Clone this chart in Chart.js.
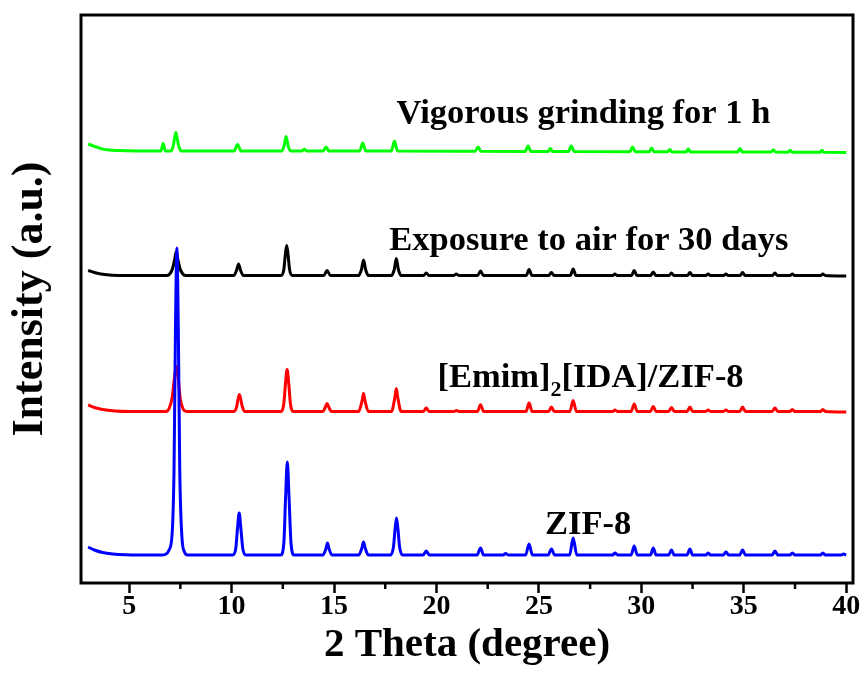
<!DOCTYPE html>
<html>
<head>
<meta charset="utf-8">
<script src="https://cdn.jsdelivr.net/npm/chart.js@4.4.1/dist/chart.umd.min.js"></script>
<style>
  html, body { margin: 0; padding: 0; background: #ffffff; }
  #c { display: block; }
</style>
</head>
<body>
<canvas id="c" width="868" height="681"></canvas>
<script>
// XRD patterns: [2θ (degree), intensity above the pattern's own baseline]
const zif8 = [
  [3.0, 8], [3.3, 5], [3.7, 2.5], [4.2, 1], [4.8, 0.3], [6.6, 0],
  [6.75, 0.5], [6.95, 5], [7.1, 22], [7.19, 85], [7.26, 225], [7.33, 307], [7.4, 225], [7.47, 85], [7.57, 20], [7.7, 3], [7.85, 0],
  [10.05, 0], [10.2, 6], [10.29, 27], [10.37, 42], [10.45, 27], [10.55, 6], [10.7, 0],
  [12.4, 0], [12.55, 12], [12.64, 60], [12.72, 93], [12.8, 60], [12.9, 12], [13.05, 0],
  [14.45, 0], [14.6, 6], [14.68, 12], [14.76, 6], [14.9, 0],
  [16.2, 0], [16.36, 7], [16.44, 13], [16.52, 7], [16.68, 0],
  [17.75, 0], [17.9, 8], [17.98, 26], [18.05, 37], [18.12, 26], [18.2, 8], [18.35, 0],
  [19.35, 0], [19.5, 4], [19.65, 0],
  [21.98, 0], [22.15, 7], [22.3, 0],
  [23.25, 0], [23.38, 1.5], [23.5, 0],
  [24.35, 0], [24.52, 11], [24.68, 0],
  [25.45, 0], [25.61, 6], [25.77, 0],
  [26.5, 0], [26.67, 17], [26.85, 0],
  [28.6, 0], [28.71, 2], [28.85, 0],
  [29.5, 0], [29.65, 9], [29.8, 0],
  [30.45, 0], [30.58, 7], [30.72, 0],
  [31.33, 0], [31.47, 5], [31.6, 0],
  [32.23, 0], [32.37, 6], [32.5, 0],
  [33.15, 0], [33.26, 2], [33.38, 0],
  [34.0, 0], [34.13, 3], [34.26, 0],
  [34.8, 0], [34.94, 5], [35.08, 0],
  [36.38, 0], [36.52, 4], [36.66, 0],
  [37.25, 0], [37.37, 2], [37.5, 0],
  [38.74, 0], [38.86, 2], [38.98, 0],
  [39.75, 0], [39.86, 1], [40.0, 0]
];

const emimIdaZif8 = [
  [3.0, 6.5], [3.3, 4], [3.7, 2], [4.3, 0.5], [5.0, 0], [6.8, 0],
  [6.95, 3], [7.1, 14], [7.2, 32], [7.3, 45], [7.4, 32], [7.5, 12], [7.65, 2], [7.8, 0],
  [10.1, 0], [10.25, 5], [10.31, 12], [10.38, 17], [10.45, 12], [10.52, 5], [10.65, 0],
  [12.42, 0], [12.55, 8], [12.63, 28], [12.71, 42], [12.79, 28], [12.87, 8], [13.0, 0],
  [14.45, 0], [14.58, 4.5], [14.66, 8], [14.74, 4.5], [14.88, 0],
  [16.2, 0], [16.37, 11], [16.44, 18], [16.51, 11], [16.68, 0],
  [17.8, 0], [17.97, 14], [18.04, 23], [18.11, 14], [18.28, 0],
  [19.36, 0], [19.5, 3.4], [19.64, 0],
  [20.85, 0], [20.97, 1], [21.1, 0],
  [22.0, 0], [22.15, 6.7], [22.3, 0],
  [24.37, 0], [24.52, 8.4], [24.67, 0],
  [25.47, 0], [25.61, 4.4], [25.75, 0],
  [26.51, 0], [26.67, 11], [26.83, 0],
  [28.6, 0], [28.71, 1.5], [28.83, 0],
  [29.5, 0], [29.65, 7.4], [29.8, 0],
  [30.44, 0], [30.58, 5], [30.72, 0],
  [31.33, 0], [31.47, 4], [31.61, 0],
  [32.23, 0], [32.37, 4.4], [32.51, 0],
  [33.14, 0], [33.26, 1.5], [33.38, 0],
  [34.01, 0], [34.13, 1.5], [34.25, 0],
  [34.8, 0], [34.94, 4.4], [35.08, 0],
  [36.38, 0], [36.52, 3.4], [36.66, 0],
  [37.25, 0], [37.37, 2], [37.49, 0],
  [38.74, 0], [38.86, 2], [38.98, 0],
  [40.0, -0.5]
];

const airExposed = [
  [3.0, 5], [3.3, 3], [3.8, 1], [4.5, 0], [6.85, 0],
  [7.0, 2], [7.12, 7], [7.22, 16], [7.3, 24], [7.38, 16], [7.48, 7], [7.6, 2], [7.75, 0],
  [10.1, 0], [10.24, 5], [10.34, 11.5], [10.44, 5], [10.58, 0],
  [12.42, 0], [12.55, 6], [12.62, 20], [12.69, 30], [12.76, 20], [12.83, 6], [12.97, 0],
  [14.5, 0], [14.66, 5], [14.82, 0],
  [16.2, 0], [16.34, 6], [16.44, 15.5], [16.54, 6], [16.68, 0],
  [17.8, 0], [17.94, 6], [18.04, 17], [18.14, 6], [18.28, 0],
  [19.37, 0], [19.5, 2.5], [19.63, 0],
  [20.85, 0], [20.97, 1.5], [21.09, 0],
  [22.01, 0], [22.15, 4.5], [22.29, 0],
  [24.38, 0], [24.52, 6], [24.66, 0],
  [25.48, 0], [25.61, 3], [25.74, 0],
  [26.53, 0], [26.67, 6.5], [26.81, 0],
  [28.6, 0], [28.71, 1.5], [28.82, 0],
  [29.52, 0], [29.65, 5], [29.78, 0],
  [30.45, 0], [30.58, 3.5], [30.71, 0],
  [31.35, 0], [31.47, 2.5], [31.59, 0],
  [32.25, 0], [32.37, 3], [32.49, 0],
  [33.15, 0], [33.26, 1.5], [33.37, 0],
  [34.02, 0], [34.13, 1.5], [34.24, 0],
  [34.82, 0], [34.94, 3], [35.06, 0],
  [36.4, 0], [36.52, 2.5], [36.64, 0],
  [37.26, 0], [37.37, 1.5], [37.48, 0],
  [38.75, 0], [38.86, 1.5], [38.97, 0],
  [40.0, -0.5]
];

const ground1h = [
  [3.0, 7], [3.4, 4], [3.8, 1.5], [4.5, 0.5], [6.5, 0],
  [6.55, 0], [6.66, 7.5], [6.77, 0],
  [7.05, 0], [7.15, 5], [7.22, 13], [7.28, 18.5], [7.34, 13], [7.42, 5], [7.55, 0],
  [10.12, 0], [10.29, 6.5], [10.46, 0],
  [12.45, 0], [12.56, 5], [12.66, 14.5], [12.76, 5], [12.9, 0],
  [13.45, 0], [13.55, 2], [13.65, 0],
  [14.47, 0], [14.61, 4], [14.75, 0],
  [16.25, 0], [16.4, 8], [16.55, 0],
  [17.8, 0], [17.95, 10], [18.1, 0],
  [21.89, -0.3], [22.03, 4], [22.17, -0.3],
  [24.33, -0.4], [24.47, 5], [24.61, -0.4],
  [25.45, -0.5], [25.56, 2.5], [25.67, -0.5],
  [26.44, -0.5], [26.58, 5], [26.72, -0.5],
  [29.44, -0.7], [29.57, 4], [29.7, -0.7],
  [30.38, -0.8], [30.5, 3], [30.62, -0.8],
  [31.28, -0.8], [31.39, 1.5], [31.5, -0.9],
  [32.18, -0.9], [32.29, 2], [32.4, -0.9],
  [34.69, -1], [34.81, 2.5], [34.93, -1],
  [36.33, -1.1], [36.44, 1.2], [36.55, -1.1],
  [37.16, -1.2], [37.26, 0.8], [37.36, -1.2],
  [38.71, -1.3], [38.81, 0.7], [38.91, -1.3],
  [40.0, -1.4]
];

// vertical offsets that stack the four patterns
const offsets = [28, 171.5, 307.5, 432];

const seriesNames = ['ZIF-8', '[Emim]2[IDA]/ZIF-8', 'Exposure to air for 30 days', 'Vigorous grinding for 1 h'];
const seriesData = [zif8, emimIdaZif8, airExposed, ground1h];
const seriesColors = ['#0000ff', '#ff0000', '#000000', '#00ff00'];

// axis ticks
const xMajorTicks = [5, 10, 15, 20, 25, 30, 35, 40];
const xMinorTicks = [7.5, 12.5, 17.5, 22.5, 27.5, 32.5, 37.5];

// in-plot sample labels: text pieces ([text, isSubscript]) and their anchor in data units
const sampleLabels = [
  { parts: [['Vigorous grinding for 1 h', false]], x: 18.05, y: 460 },
  { parts: [['Exposure to air for 30 days', false]], x: 17.7, y: 333 },
  { parts: [['[Emim]', false], ['2', true], ['[IDA]/ZIF-8', false]], x: 20.05, y: 196 },
  { parts: [['ZIF-8', false]], x: 25.3, y: 49 }
];

const SERIF = '"Liberation Serif", "Times New Roman", serif';

const framePlugin = {
  id: 'frame',
  afterDatasetsDraw(chart) {
    const { ctx, scales } = chart;
    const xs = scales.x, ys = scales.y;
    ctx.save();
    ctx.fillStyle = '#000';
    ctx.textAlign = 'left';
    ctx.textBaseline = 'alphabetic';
    sampleLabels.forEach(lab => {
      let px = xs.getPixelForValue(lab.x);
      const py = ys.getPixelForValue(lab.y);
      lab.parts.forEach(([txt, sub]) => {
        ctx.font = sub ? 'bold 22px ' + SERIF : 'bold 34.5px ' + SERIF;
        ctx.fillText(txt, px, sub ? py + 9 : py);
        px += ctx.measureText(txt).width;
      });
    });
    ctx.restore();
  },
  afterDraw(chart) {
    const { ctx, chartArea: a, scales } = chart;
    ctx.save();
    ctx.strokeStyle = '#000';
    ctx.lineWidth = 3;
    ctx.strokeRect(a.left, a.top, a.right - a.left, a.bottom - a.top);
    ctx.lineWidth = 2.5;
    xMinorTicks.forEach(v => {
      const px = scales.x.getPixelForValue(v);
      ctx.beginPath();
      ctx.moveTo(px, a.bottom);
      ctx.lineTo(px, a.bottom + 6);
      ctx.stroke();
    });
    ctx.restore();
  }
};

new Chart(document.getElementById('c'), {
  type: 'scatter',
  data: {
    datasets: seriesData.map((pts, i) => ({
      label: seriesNames[i],
      data: pts.map(([t, v]) => ({ x: t, y: v + offsets[i] })),
      showLine: true,
      borderColor: seriesColors[i],
      backgroundColor: seriesColors[i],
      borderWidth: 3,
      pointRadius: 0,
      cubicInterpolationMode: 'monotone',
      order: i
    }))
  },
  options: {
    responsive: false,
    animation: false,
    devicePixelRatio: 1,
    layout: { padding: { top: 15, right: 15, left: 0, bottom: 0 } },
    plugins: { legend: { display: false }, tooltip: { enabled: false } },
    scales: {
      x: {
        type: 'linear',
        min: 2.65,
        max: 40.33,
        afterBuildTicks: s => { s.ticks = xMajorTicks.map(v => ({ value: v })); },
        afterFit: s => { s.height = 98; },
        border: { display: false },
        grid: { drawOnChartArea: false, drawTicks: true, tickLength: 10, tickWidth: 2.5, tickColor: '#000' },
        ticks: {
          autoSkip: false, maxRotation: 0, padding: -3, color: '#000',
          font: { family: SERIF, size: 28, weight: 'bold' },
          callback: v => String(v)
        },
        title: {
          display: true, text: '2 Theta (degree)', color: '#000',
          font: { family: SERIF, size: 41, weight: 'bold' },
          padding: { top: 0, bottom: 11 }
        }
      },
      y: {
        min: 0,
        max: 568,
        afterFit: s => { s.width = 81; },
        border: { display: false },
        grid: { display: false },
        ticks: { display: false },
        title: {
          display: true, text: 'Intensity (a.u.)', color: '#000',
          font: { family: SERIF, size: 44, weight: 'bold' },
          padding: { top: 4, bottom: 0 }
        }
      }
    }
  },
  plugins: [framePlugin]
});
</script>
</body>
</html>
